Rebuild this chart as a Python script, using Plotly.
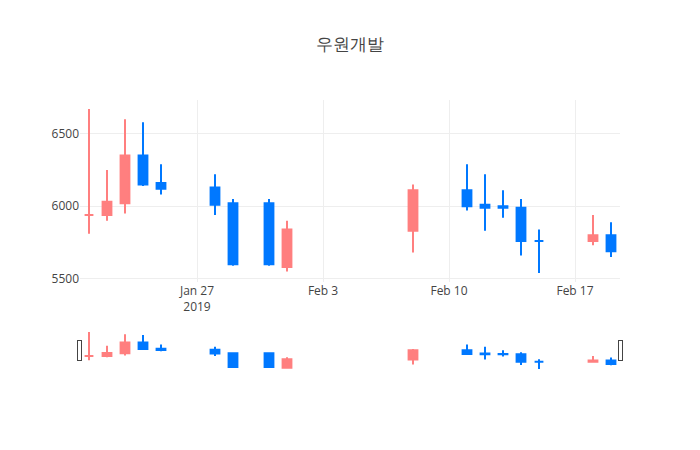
import plotly.graph_objects as go

dates = ["2019-01-21", "2019-01-22", "2019-01-23", "2019-01-24", "2019-01-25",
         "2019-01-28", "2019-01-29", "2019-01-31", "2019-02-01", "2019-02-08",
         "2019-02-11", "2019-02-12", "2019-02-13", "2019-02-14", "2019-02-15",
         "2019-02-18", "2019-02-19"]
opens = [5940, 5940, 6020, 6350, 6160, 6130, 6020, 6020, 5580, 5830,
         6110, 6010, 6000, 5990, 5760, 5760, 5800]
highs = [6670, 6250, 6600, 6580, 6290, 6220, 6050, 6050, 5900, 6150,
         6290, 6220, 6110, 6050, 5840, 5940, 5890]
lows = [5810, 5900, 5950, 6140, 6080, 5940, 5590, 5590, 5550, 5680,
        5970, 5830, 5920, 5660, 5540, 5730, 5650]
closes = [5940, 6030, 6350, 6150, 6120, 6010, 5600, 5600, 5840, 6110,
          6000, 5990, 5990, 5760, 5760, 5800, 5690]

UP = "#FF7F7F"
DOWN = "#0078FF"

fig = go.Figure(go.Candlestick(
    x=dates, open=opens, high=highs, low=lows, close=closes,
    increasing=dict(line=dict(color=UP), fillcolor=UP),
    decreasing=dict(line=dict(color=DOWN), fillcolor=DOWN),
))
fig.update_layout(
    template="none",
    title=dict(text="우원개발", x=0.5),
    width=700, height=450,
    showlegend=False,
    xaxis=dict(rangeslider=dict(visible=True)),
)
fig.write_html("out.html")
